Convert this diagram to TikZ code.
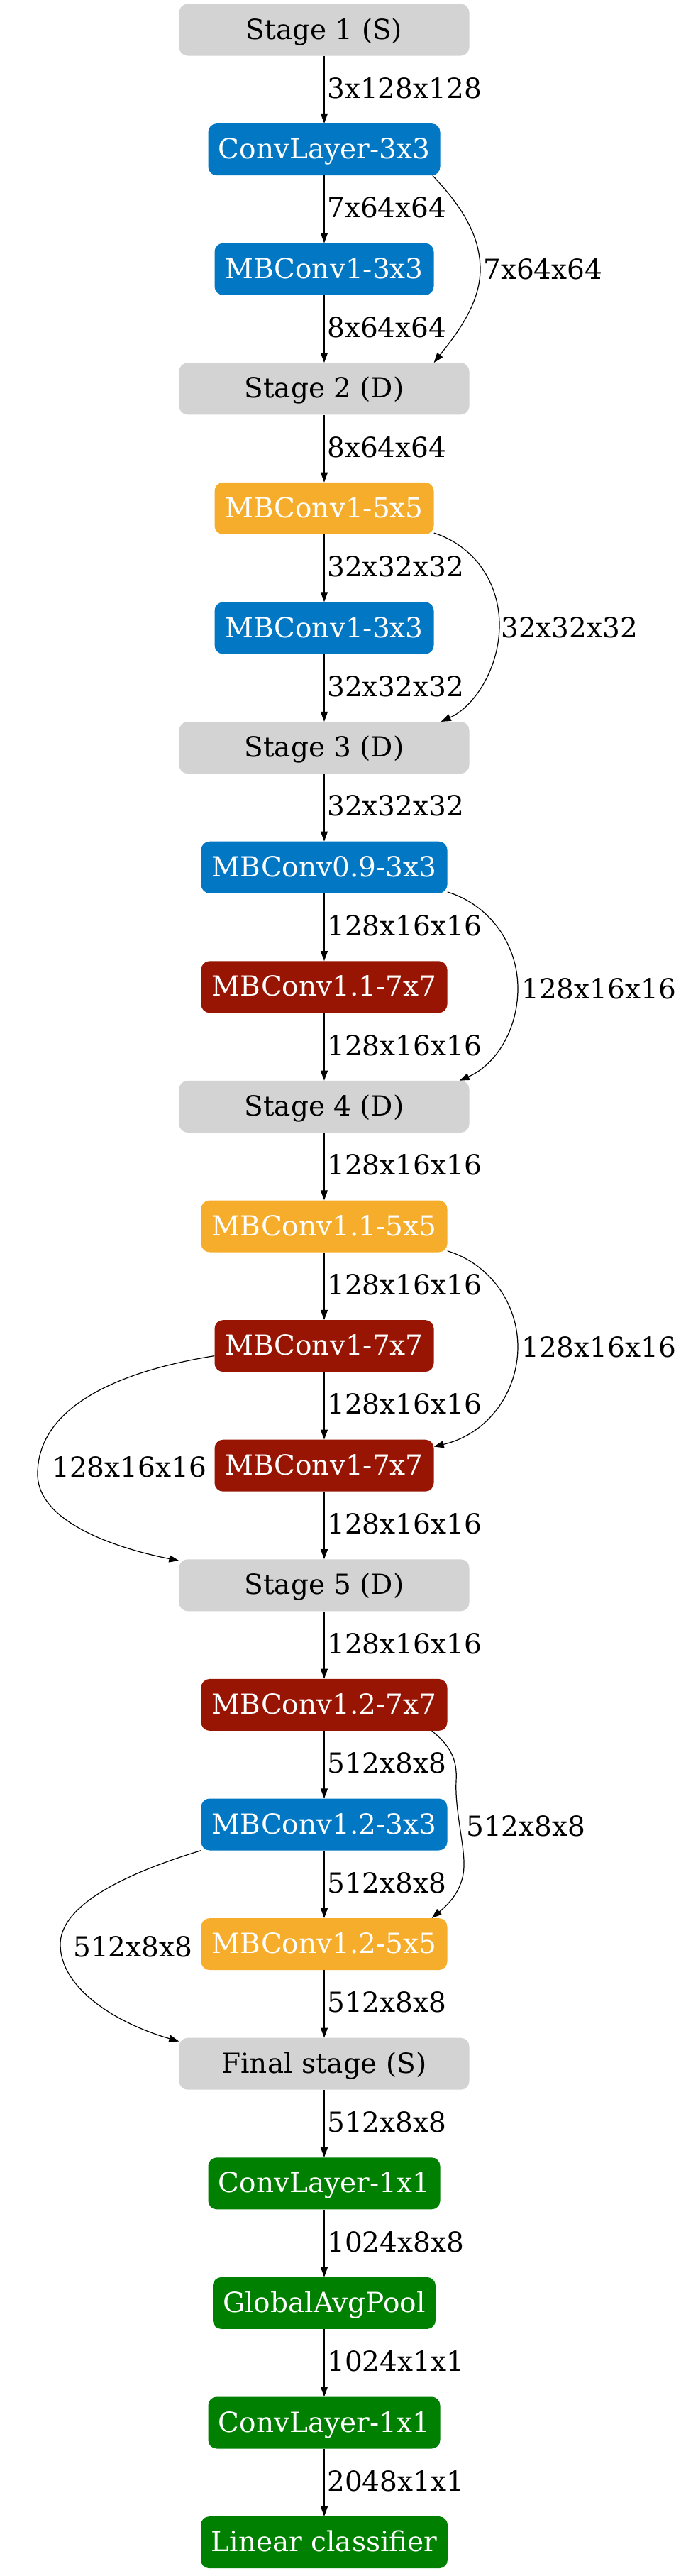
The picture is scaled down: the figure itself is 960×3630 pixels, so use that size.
\documentclass[tikz,border=0pt]{standalone}
\usepackage{fontspec}
\setmainfont{DejaVu Serif}
\usetikzlibrary{arrows.meta,calc}
\definecolor{cblue}{RGB}{2,119,196}
\definecolor{corange}{RGB}{246,173,44}
\definecolor{cred}{RGB}{151,21,2}
\definecolor{cgreen}{RGB}{0,128,0}
\definecolor{cgray}{RGB}{211,211,211}
\begin{document}
\begin{tikzpicture}[x=1pt,y=-1pt,
  box/.style={rounded corners=12pt, minimum height=73pt, inner sep=0pt,
    font=\fontsize{39}{47}\selectfont, text height=30pt, text depth=4pt},
  stagebox/.style={box, fill=cgray, text=black, minimum width=409pt},
  bluebox/.style={box, fill=cblue, text=white},
  orangebox/.style={box, fill=corange, text=white},
  redbox/.style={box, fill=cred, text=white},
  greenbox/.style={box, fill=cgreen, text=white},
  lbl/.style={anchor=base west, inner sep=0pt, font=\fontsize{39}{47}\selectfont},
  arr/.style={-{Triangle[length=14pt,width=10pt]}, line width=1.2pt}]
\useasboundingbox (0,0) rectangle (960,3630);

\node[stagebox] (s1) at (457,42) {Stage 1 (S)};
\node[bluebox, minimum width=327pt] (c1) at (457,210.6) {ConvLayer-3x3};
\node[bluebox, minimum width=309pt] (m1) at (457,379.2) {MBConv1-3x3};
\node[stagebox] (s2) at (457,547.8) {Stage 2 (D)};
\node[orangebox, minimum width=309pt] (m2) at (457,716.4) {MBConv1-5x5};
\node[bluebox, minimum width=309pt] (m3) at (457,885) {MBConv1-3x3};
\node[stagebox] (s3) at (457,1053.6) {Stage 3 (D)};
\node[bluebox, minimum width=347pt] (m4) at (457,1222.2) {MBConv0.9-3x3};
\node[redbox, minimum width=347pt] (m5) at (457,1390.8) {MBConv1.1-7x7};
\node[stagebox] (s4) at (457,1559.4) {Stage 4 (D)};
\node[orangebox, minimum width=347pt] (m6) at (457,1728) {MBConv1.1-5x5};
\node[redbox, minimum width=309pt] (m7) at (457,1896.6) {MBConv1-7x7};
\node[redbox, minimum width=309pt] (m8) at (457,2065.2) {MBConv1-7x7};
\node[stagebox] (s5) at (457,2233.8) {Stage 5 (D)};
\node[redbox, minimum width=347pt] (m9) at (457,2402.4) {MBConv1.2-7x7};
\node[bluebox, minimum width=347pt] (m10) at (457,2571) {MBConv1.2-3x3};
\node[orangebox, minimum width=347pt] (m11) at (457,2739.6) {MBConv1.2-5x5};
\node[stagebox] (s6) at (457,2908.2) {Final stage (S)};
\node[greenbox, minimum width=327pt] (c2) at (457,3076.8) {ConvLayer-1x1};
\node[greenbox, minimum width=314pt] (gp) at (457,3245.4) {GlobalAvgPool};
\node[greenbox, minimum width=327pt] (c3) at (457,3414) {ConvLayer-1x1};
\node[greenbox, minimum width=348pt] (lc) at (457,3582.6) {Linear classifier};

% straight edges with labels
\foreach \a/\b/\t [count=\i from 0] in {s1/c1/3x128x128, c1/m1/7x64x64, m1/s2/8x64x64,
  s2/m2/8x64x64, m2/m3/32x32x32, m3/s3/32x32x32, s3/m4/32x32x32,
  m4/m5/128x16x16, m5/s4/128x16x16, s4/m6/128x16x16, m6/m7/128x16x16,
  m7/m8/128x16x16, m8/s5/128x16x16, s5/m9/128x16x16, m9/m10/512x8x8,
  m10/m11/512x8x8, m11/s6/512x8x8, s6/c2/512x8x8, c2/gp/1024x8x8,
  gp/c3/1024x1x1, c3/lc/2048x1x1} {
  \draw[arr] (\a.south) -- (\b.north);
  \node[lbl] (l\i) at (461,{138.3+168.6*\i}) {\t};
}

% curved skip edges
\draw[arr] ([xshift=-11pt]c1.south east) .. controls (660,300) and (677,340) .. (677,380)
  .. controls (677,430) and (640,475) .. ([xshift=-50pt]s2.north east);
\node[lbl] (la) at (681,393) {7x64x64};

\draw[arr] ([yshift=2pt]m2.south east) .. controls (668,769) and (704,820) .. (704,881)
  .. controls (704,940) and (670,995) .. ([xshift=-40pt]s3.north east);
\node[lbl] (lb) at (706,898) {32x32x32};

\draw[arr] ([yshift=2pt]m4.south east) .. controls (690,1275) and (730,1330) .. (730,1393)
  .. controls (730,1450) and (700,1500) .. ([xshift=-14pt]s4.north east);
\node[lbl] (lcc) at (735,1407) {128x16x16};

\draw[arr] ([yshift=2pt]m6.south east) .. controls (690,1781) and (730,1836) .. (730,1898)
  .. controls (730,1960) and (690,2020) .. ([yshift=-10pt]m8.north east);
\node[lbl] (ld) at (735,1912) {128x16x16};

\draw[arr] ([yshift=-14pt]m7.west) .. controls (150,1935) and (53,1990) .. (53,2077)
  .. controls (53,2150) and (180,2185) .. ([yshift=-2pt]s5.north west);
\node[lbl] (le) at (73,2081) {128x16x16};

\draw[arr] ([xshift=-22pt]m9.south east) .. controls (635,2460) and (645,2480) .. (643,2510)
  .. controls (641,2550) and (655,2600) .. (654,2630)
  .. controls (653,2665) and (630,2685) .. ([xshift=-22pt]m11.north east);
\node[lbl] (lf) at (657,2587) {512x8x8};

\draw[arr] (m10.south west) .. controls (160,2645) and (85,2690) .. (85,2740)
  .. controls (85,2800) and (160,2850) .. ([yshift=-5pt]s6.north west);
\node[lbl] (lg) at (103,2757) {512x8x8};
\end{tikzpicture}
\end{document}
